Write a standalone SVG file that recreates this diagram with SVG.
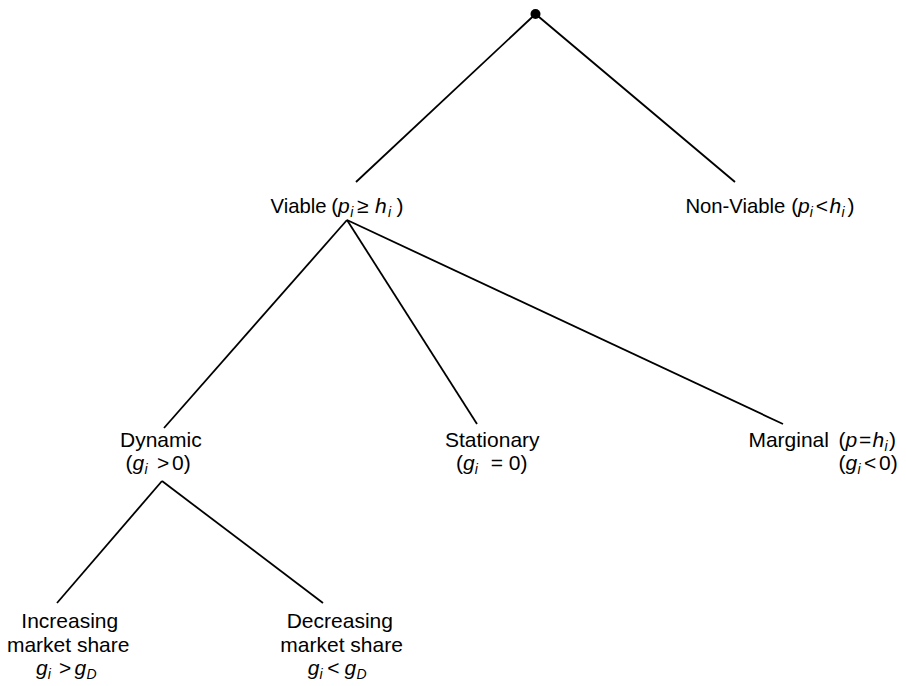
<svg xmlns="http://www.w3.org/2000/svg" width="906" height="686" viewBox="0 0 906 686">
<style>
text{font-family:"Liberation Sans",Arial,sans-serif;font-size:21px;fill:#000}
.i{font-style:italic}
.s{font-size:14px;font-style:italic}
.w{font-size:20.3px}
line{stroke:#000;stroke-width:1.8}
</style>
<rect width="906" height="686" fill="#fff"/>
<g id="connectors">
<line x1="535.5" y1="14" x2="356" y2="182"/>
<line x1="535.5" y1="14" x2="735" y2="182"/>
<line x1="347" y1="220" x2="164" y2="428"/>
<line x1="347" y1="220" x2="477" y2="424"/>
<line x1="347" y1="220" x2="783" y2="424"/>
<line x1="162" y1="481" x2="57" y2="603"/>
<line x1="162" y1="481" x2="323" y2="603"/>
</g>
<g id="root"><circle cx="535.5" cy="14" r="5" fill="#000"/></g>
<g id="viable"><text y="213"><tspan x="270.5" class="w">Viable</tspan><tspan x="331.3">(</tspan><tspan x="338" class="i">p</tspan><tspan x="350.3" class="s" dy="4">i</tspan><tspan x="357" dy="-4">≥</tspan><tspan x="375" class="i">h</tspan><tspan x="388" class="s" dy="4">i</tspan><tspan x="396.5" dy="-4">)</tspan></text></g>
<g id="nonviable"><text y="213"><tspan x="685.4" class="w">Non-Viable</tspan><tspan x="791.3">(</tspan><tspan x="798" class="i">p</tspan><tspan x="809.8" class="s" dy="4">i</tspan><tspan x="815.7" dy="-4">&lt;</tspan><tspan x="829.5" class="i">h</tspan><tspan x="841.5" class="s" dy="4">i</tspan><tspan x="847.6" dy="-4">)</tspan></text></g>
<g id="dynamic"><text x="120" y="447">Dynamic</text><text y="470"><tspan x="125.6">(</tspan><tspan x="132.6" class="i">g</tspan><tspan x="144.4" class="s" dy="4">i</tspan><tspan x="157" dy="-4">&gt;</tspan><tspan x="172">0)</tspan></text></g>
<g id="stationary"><text x="445" y="447">Stationary</text><text y="470"><tspan x="456">(</tspan><tspan x="463" class="i">g</tspan><tspan x="474.8" class="s" dy="4">i</tspan><tspan x="490.7" dy="-4">= 0)</tspan></text></g>
<g id="marginal"><text y="447"><tspan x="748.4">Marginal</tspan><tspan x="838.6">(</tspan><tspan x="845.6" class="i">p</tspan><tspan x="859">=</tspan><tspan x="872.5" class="i">h</tspan><tspan x="884.4" class="s" dy="4">i</tspan><tspan x="889" dy="-4">)</tspan></text><text y="470"><tspan x="838.6">(</tspan><tspan x="845.6" class="i">g</tspan><tspan x="857.4" class="s" dy="4">i</tspan><tspan x="864" dy="-4">&lt;</tspan><tspan x="879">0)</tspan></text></g>
<g id="increasing"><text x="21.3" y="628">Increasing</text><text x="6.9" y="652">market share</text><text y="675"><tspan x="36" class="i">g</tspan><tspan x="47.8" class="s" dy="4">i</tspan><tspan x="59" dy="-4">&gt;</tspan><tspan x="74.5" class="i">g</tspan><tspan x="86.4" class="s" dy="4">D</tspan></text></g>
<g id="decreasing"><text x="286.7" y="628">Decreasing</text><text x="280.3" y="652">market share</text><text y="675"><tspan x="307.8" class="i">g</tspan><tspan x="319.6" class="s" dy="4">i</tspan><tspan x="327.3" dy="-4">&lt;</tspan><tspan x="344.5" class="i">g</tspan><tspan x="356.4" class="s" dy="4">D</tspan></text></g>
</svg>
